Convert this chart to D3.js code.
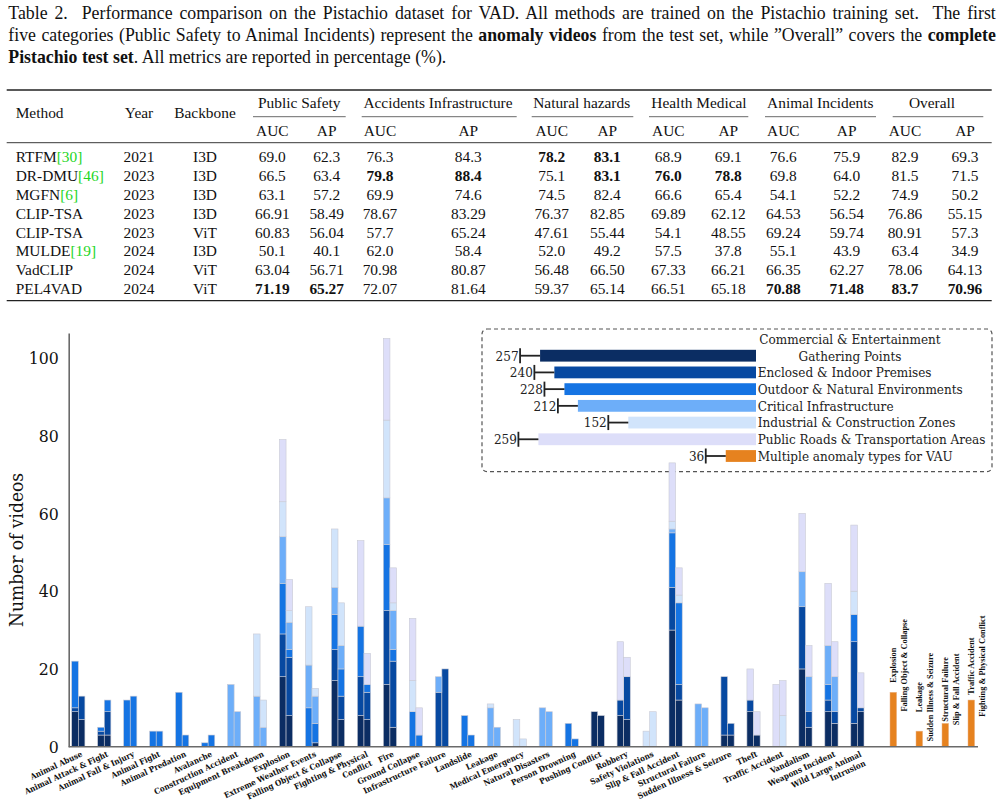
<!DOCTYPE html>
<html><head><meta charset="utf-8">
<script src="https://cdn.jsdelivr.net/npm/d3@7"></script>
<style>body{margin:0;background:#fff}svg{display:block}</style>
</head><body><script>
// ---------------- TABLE DATA ----------------
const captionLines = [
  [["Table 2.  Performance comparison on the Pistachio dataset for VAD. All methods are trained on the Pistachio training set.  The first",0]],
  [["five categories (Public Safety to Animal Incidents) represent the ",0],["anomaly videos",1],[" from the test set, while ”Overall” covers the ",0],["complete",1]],
  [["Pistachio test set",1],[". All metrics are reported in percentage (%).",0]]
];
const methods   = ["RTFM","DR-DMU","MGFN","CLIP-TSA","CLIP-TSA","MULDE","VadCLIP","PEL4VAD"];
const cites     = ["[30]","[46]","[6]","","","[19]","",""];
const years     = ["2021","2023","2023","2023","2023","2024","2024","2024"];
const backbones = ["I3D","I3D","I3D","I3D","ViT","I3D","ViT","ViT"];
const groups    = ["Public Safety","Accidents Infrastructure","Natural hazards","Health Medical","Animal Incidents","Overall"];
const metrics   = ["AUC","AP"];
const scores = [
  ["69.0","62.3","76.3","84.3","78.2","83.1","68.9","69.1","76.6","75.9","82.9","69.3"],
  ["66.5","63.4","79.8","88.4","75.1","83.1","76.0","78.8","69.8","64.0","81.5","71.5"],
  ["63.1","57.2","69.9","74.6","74.5","82.4","66.6","65.4","54.1","52.2","74.9","50.2"],
  ["66.91","58.49","78.67","83.29","76.37","82.85","69.89","62.12","64.53","56.54","76.86","55.15"],
  ["60.83","56.04","57.7","65.24","47.61","55.44","54.1","48.55","69.24","59.74","80.91","57.3"],
  ["50.1","40.1","62.0","58.4","52.0","49.2","57.5","37.8","55.1","43.9","63.4","34.9"],
  ["63.04","56.71","70.98","80.87","56.48","66.50","67.33","66.21","66.35","62.27","78.06","64.13"],
  ["71.19","65.27","72.07","81.64","59.37","65.14","66.51","65.18","70.88","71.48","83.7","70.96"]
];
const boldCells = [[0,4],[0,5],[1,2],[1,3],[1,5],[1,6],[1,7],[7,0],[7,1],[7,8],[7,9],[7,10],[7,11]];

// ---------------- CHART DATA ----------------
const categories = ["Animal Abuse","Animal Attack & Fight","Animal Fall & Injury","Animal Fight","Animal Predation","Avalanche","Construction Accident","Equipment Breakdown","Explosion","Extreme Weather Events","Falling Object & Collapse","Fighting & Physical\nConflict","Fire","Ground Collapse","Infrastructure Failure","Landslide","Leakage","Medical Emergency","Natural Disasters","Person Drowning","Pushing Conflict","Robbery","Safety Violations","Slip & Fall Accident","Structural Failure","Sudden Illness & Seizure","Theft","Traffic Accident","Vandalism","Weapons Incident","Wild Large Animal\nIntrusion"];
const scenes = ["Commercial & Entertainment\nGathering Points","Enclosed & Indoor Premises","Outdoor & Natural Environments","Critical Infrastructure","Industrial & Construction Zones","Public Roads & Transportation Areas"];
const sceneKeys = ["comm","encl","outd","crit","indu","road"];
// first bar of each pair
const commA = [9,3,0,0,0,0,0,0,18,0,17,8,16,0,0,0,0,0,0,0,9,8,0,30,0,3,9,0,20,9,6];
const enclA = [1,1,0,0,0,0,0,0,11,0,8,10,19,0,14,0,0,0,0,0,0,4,0,11,0,15,3,0,16,3,21];
const outdA = [12,1,12,4,14,1,0,0,13,10,9,13,17,9,0,8,0,0,0,6,0,0,0,14,0,0,0,0,0,4,7];
const critA = [0,0,0,0,0,0,16,13,12,11,7,0,12,0,4,0,10,0,10,0,0,0,0,1,11,0,0,0,9,10,0];
const induA = [0,0,0,0,0,0,0,16,9,15,15,0,20,8,0,0,1,7,0,0,0,0,4,2,0,0,0,0,0,0,6];
const roadA = [0,0,0,0,0,0,0,0,16,0,0,22,21,16,0,0,0,0,0,0,0,15,0,15,0,0,8,16,15,16,17];
// second bar of each pair
const commB = [7,3,0,0,0,0,0,0,8,1,7,7,5,0,0,0,0,0,0,0,8,7,0,12,0,3,3,0,5,6,9];
const enclB = [6,6,0,0,0,0,0,0,15,0,6,7,17,0,20,0,0,0,0,0,0,11,0,4,0,3,0,0,4,3,1];
const outdB = [0,3,13,4,3,3,0,0,2,5,7,2,3,3,0,3,0,0,0,2,0,0,0,21,0,0,0,0,0,0,0];
const critB = [0,0,0,0,0,0,9,5,7,7,6,0,10,0,0,0,5,0,9,0,0,0,0,0,10,0,0,0,9,9,0];
const induB = [0,0,0,0,0,0,0,7,3,2,11,0,2,0,0,0,0,2,0,0,0,0,9,2,0,0,0,8,0,0,0];
const roadB = [0,0,0,0,0,0,0,0,8,0,0,8,9,7,0,0,0,0,0,0,0,5,0,7,0,0,6,9,8,9,9];
// multiple-anomaly (orange) bars
const multiLabels = [["Explosion","Falling Object & Collapse"],["Leakage","Sudden Illness & Seizure"],["Structural Failure","Slip & Fall Accident"],["Traffic Accident","Fighting & Physical Conflict"]];
const multiValues = [14,4,6,12];
// legend
const legendLabels = scenes.concat(["Multiple anomaly types for VAU"]);
const legendCounts = [257,240,228,212,152,259,36];
const yTicks = [0,20,40,60,80,100];

// ---------------- STYLE ----------------
const colors = ["#0b2d63","#0749a1","#1574e3","#6daef9","#d1e4fb","#dddef9","#e6821f"];
const times = '"Liberation Serif","Times New Roman",serif';
const slab = '"DejaVu Serif Condensed","DejaVu Serif",serif';

const svg = d3.select("body").append("svg").attr("width",1002).attr("height",806);

// ---------------- CAPTION ----------------
const capY = [19,41.3,63.3];
captionLines.forEach((segs,i)=>{
  const t = svg.append("text").attr("x",8.3).attr("y",capY[i])
    .style("font-family",times).style("font-size","17.8px").style("white-space","pre").attr("fill","#111");
  segs.forEach(s=>t.append("tspan").text(s[0]).style("font-weight",s[1]?"bold":"normal"));
  if(i<2){
    const L = t.node().getComputedTextLength();
    const n = (segs.map(s=>s[0]).join("").match(/ /g)||[]).length;
    t.style("word-spacing",((987.5-L)/n)+"px");
  }
});

// ---------------- TABLE ----------------
const tfs = "15.4px";
const colX = [272.3,326.7,380,468.3,551.7,607.3,668.3,728.3,783.3,846.7,905,965];
const grpX = [299.3,438,581.7,699,820.3,932];
const cmid = [[253,345.7],[361.7,516.7],[531.7,633.3],[649,748.3],[765,876],[892.7,983.3]];
const T = svg.append("g").style("font-family",times).style("font-size",tfs).attr("fill","#111");
T.append("line").attr("x1",6.7).attr("x2",991.7).attr("y1",90).attr("y2",90).attr("stroke","#222").attr("stroke-width",1.3);
T.append("line").attr("x1",6.7).attr("x2",991.7).attr("y1",142.7).attr("y2",142.7).attr("stroke","#222").attr("stroke-width",0.9);
T.append("line").attr("x1",6.7).attr("x2",991.7).attr("y1",300.7).attr("y2",300.7).attr("stroke","#222").attr("stroke-width",1.3);
T.append("text").attr("x",15.7).attr("y",118.3).text("Method");
T.append("text").attr("x",139).attr("y",118.3).attr("text-anchor","middle").text("Year");
T.append("text").attr("x",205).attr("y",118.3).attr("text-anchor","middle").text("Backbone");
groups.forEach((g,i)=>{
  T.append("text").attr("x",grpX[i]).attr("y",108.3).attr("text-anchor","middle").text(g);
  T.append("line").attr("x1",cmid[i][0]).attr("x2",cmid[i][1]).attr("y1",116.7).attr("y2",116.7).attr("stroke","#444").attr("stroke-width",0.8);
  metrics.forEach((m,j)=>T.append("text").attr("x",colX[i*2+j]).attr("y",135.7).attr("text-anchor","middle").text(m));
});
const rowY = d3.scaleLinear().domain([0,7]).range([161.7,294.4]);
methods.forEach((m,r)=>{
  const t = T.append("text").attr("x",15.7).attr("y",rowY(r));
  t.append("tspan").text(m);
  if(cites[r]) t.append("tspan").attr("fill","#1fd61f").text(cites[r]);
  T.append("text").attr("x",139).attr("y",rowY(r)).attr("text-anchor","middle").text(years[r]);
  T.append("text").attr("x",205).attr("y",rowY(r)).attr("text-anchor","middle").text(backbones[r]);
  scores[r].forEach((v,c)=>{
    const b = boldCells.some(d=>d[0]===r&&d[1]===c);
    T.append("text").attr("x",colX[c]).attr("y",rowY(r)).attr("text-anchor","middle")
      .style("font-weight",b?"bold":"normal").text(v);
  });
});

// ---------------- CHART ----------------
const axisX = 68.7, baseY = 746.7, topY = 333, rightX = 978;
const y = d3.scaleLinear().domain([0,106.4]).range([baseY,topY]);
const x = d3.scaleBand().domain(categories).range([71.7,864.0]).paddingInner(0.4917).paddingOuter(0).align(0);
const xi = d3.scaleBand().domain(["A","B"]).range([0,x.bandwidth()]);
const xm = d3.scalePoint().domain(multiLabels.map(d=>d[0])).range([890,968]);
const mw = xi.bandwidth();

// legend (drawn before bars)
const lg = svg.append("g");
lg.append("rect").attr("x",482).attr("y",329).attr("width",510).attr("height",142.7).attr("rx",5)
  .attr("fill","none").attr("stroke","#555").attr("stroke-width",1.2).attr("stroke-dasharray","4,3");
const lx = d3.scaleLinear().domain([0,259]).range([756,756-217.6]);
const ly = d3.scaleLinear().domain([0,6]).range([355.7,456]);
legendCounts.forEach((v,i)=>{
  const cy = ly(i), x0 = lx(v);
  lg.append("rect").attr("x",x0).attr("y",cy-5.9).attr("width",lx(0)-x0).attr("height",11.8).attr("fill",colors[i]);
  lg.append("line").attr("x1",x0-20).attr("x2",x0).attr("y1",cy).attr("y2",cy).attr("stroke","#222").attr("stroke-width",1.8);
  lg.append("line").attr("x1",x0-20).attr("x2",x0-20).attr("y1",cy-7.5).attr("y2",cy+7.5).attr("stroke","#222").attr("stroke-width",1.8);
  lg.append("text").attr("x",x0-21.5).attr("y",cy).attr("dy","0.36em").attr("text-anchor","end")
    .style("font-family",slab).style("font-size","13.4px").attr("fill","#222").text(v);
  const parts = legendLabels[i].split("\n");
  const t = lg.append("text").style("font-family",slab).style("font-size","13.4px").attr("fill","#222");
  if(parts.length>1){
    t.attr("text-anchor","middle");
    parts.forEach((p,k)=>t.append("tspan").attr("x",850).attr("y",cy-16.7+k*16.7).attr("dy","0.36em").text(p));
  } else {
    t.attr("x",757.7).attr("y",cy).attr("dy","0.36em").text(parts[0]);
  }
});

// stacked bars
const rows = categories.map((c,i)=>[
  {cat:c,bar:"A",comm:commA[i],encl:enclA[i],outd:outdA[i],crit:critA[i],indu:induA[i],road:roadA[i]},
  {cat:c,bar:"B",comm:commB[i],encl:enclB[i],outd:outdB[i],crit:critB[i],indu:induB[i],road:roadB[i]}
]).flat();
const stacked = d3.stack().keys(sceneKeys)(rows);
const bars = svg.append("g");
stacked.forEach((layer,k)=>{
  bars.selectAll(null).data(layer.filter(d=>d[1]>d[0])).join("rect")
    .attr("x",d=>x(d.data.cat)+xi(d.data.bar))
    .attr("width",xi.bandwidth())
    .attr("y",d=>y(d[1])).attr("height",d=>y(d[0])-y(d[1]))
    .attr("fill",colors[k]).attr("stroke","#c9cad4").attr("stroke-width",0.6);
});
// orange bars
bars.selectAll(null).data(multiValues).join("rect")
  .attr("x",(d,i)=>xm(multiLabels[i][0])).attr("width",mw)
  .attr("y",d=>y(d)).attr("height",d=>y(0)-y(d))
  .attr("fill",colors[6]).attr("stroke","#e9b58a").attr("stroke-width",0.5);
multiLabels.forEach((pair,i)=>{
  const cx = xm(pair[0])+mw/2, cy = y(multiValues[i])-(i===0?27:34);
  pair.forEach((lab,k)=>{
    svg.append("text").attr("transform",`translate(${cx+2.3+k*11},${cy}) rotate(-90)`)
      .attr("text-anchor","middle").style("font-family",times).style("font-weight","bold")
      .style("font-size","8.3px").attr("fill","#111").text(lab);
  });
});

// axes
const ya = svg.append("g").attr("transform",`translate(${axisX},0)`)
  .call(d3.axisLeft(y).tickValues(yTicks).tickSize(0).tickPadding(10));
ya.select(".domain").attr("stroke","#6a6a6a").attr("stroke-width",1.6);
ya.selectAll("text").style("font-family",slab).style("font-size","17.5px").attr("fill","#111");
svg.append("line").attr("x1",axisX).attr("x2",rightX).attr("y1",baseY).attr("y2",baseY)
  .attr("stroke","#6a6a6a").attr("stroke-width",1.6);
svg.append("text").attr("transform",`translate(23,550) rotate(-90)`).attr("text-anchor","middle")
  .style("font-family",slab).style("font-size","19px").attr("fill","#111").text("Number of videos");

// x labels
categories.forEach(c=>{
  const cx = x(c)+x.bandwidth()/2;
  const t = svg.append("text").attr("transform",`translate(${cx+2},750.5) rotate(-25)`)
    .attr("text-anchor","end").style("font-family",slab).style("font-weight","bold")
    .style("font-size","8.1px").attr("fill","#111");
  c.split("\n").forEach((p,k)=>t.append("tspan").attr("x",0).attr("dy",k?"1.25em":"0.75em").text(p));
});
</script></body></html>
